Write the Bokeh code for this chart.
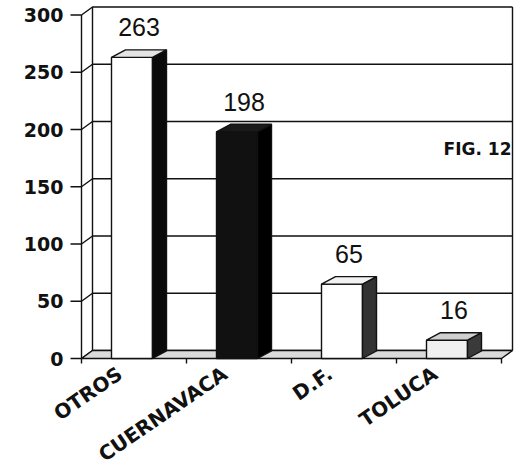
from bokeh.plotting import figure
from bokeh.models import Range1d
from bokeh.core.properties import value
from bokeh.embed import file_html
from bokeh.resources import INLINE

# ---- data ----
categories = ["OTROS", "CUERNAVACA", "D.F.", "TOLUCA"]
counts = [263, 198, 65, 16]
y_ticks = [0, 50, 100, 150, 200, 250, 300]
y_tick_labels = ["0", "50", "100", "150", "200", "250", "300"]
fig_label = "FIG. 12"

# ---- styles ----
front_face = ["#ffffff", "#111111", "#ffffff", "#f0f0f0"]
side_face = ["#0a0a0a", "#000000", "#333333", "#3a3a3a"]
top_face = ["#e4e4e4", "#1a1a1a", "#f2f2f2", "#cfcfcf"]

# ---- layout constants (pixels) ----
W, H = 520, 470
PAGE = 0
PX_X = 105.0      # px per category
PX_Y = 1.145      # px per value unit
X0_PAGE = 81      # page x of the front axis
Y0_PAGE = 358     # page y of value 0


def ux(px):
    return px / PX_X


def uy(px):
    return px / PX_Y


x_start = (PAGE - X0_PAGE) / PX_X
x_end = x_start + W / PX_X
y_end = (Y0_PAGE - PAGE) / PX_Y
y_start = y_end - H / PX_Y

p = figure(width=W, height=H, x_range=Range1d(x_start, x_end),
           y_range=Range1d(y_start, y_end), output_backend="svg",
           toolbar_location=None, x_axis_type=None, y_axis_type=None,
           min_border=0)
p.grid.visible = False
p.outline_line_color = None
p.background_fill_color = "white"

n = len(categories)
ymax = y_ticks[-1]
DX, DY = ux(11), uy(8)
LW = 1.4
INK = "#111111"

# walls
p.patch([DX, n + DX, n + DX, DX], [DY, DY, ymax + DY, ymax + DY],
        fill_color="white", line_color=None)
p.patch([0, DX, DX, 0], [0, DY, ymax + DY, ymax], fill_color="white",
        line_color=None)

# gridlines (left wall diagonal + back wall horizontal)
p.multi_line([[0, DX, n + DX] for t in y_ticks],
             [[t, t + DY, t + DY] for t in y_ticks],
             line_color=INK, line_width=LW)
# wall edges
p.multi_line([[0, 0], [DX, DX], [n + DX, n + DX]],
             [[0, ymax], [DY, ymax + DY], [DY, ymax + DY]],
             line_color=INK, line_width=LW)
# y tick marks
p.multi_line([[-ux(11), 0] for t in y_ticks], [[t, t] for t in y_ticks],
             line_color=INK, line_width=LW)

# floor
p.patch([0, n, n + DX, DX], [0, 0, DY, DY], fill_color="#dadada",
        line_color=INK, line_width=LW)
# category tick marks
p.multi_line([[i, i] for i in range(n + 1)],
             [[0, -uy(5)] for i in range(n + 1)],
             line_color=INK, line_width=LW)

# bars
OFF, BW = ux(30), ux(41)
BX, BY = ux(14), uy(7.5)
lefts = [i + OFF for i in range(n)]
rights = [l + BW for l in lefts]

p.quad(left=lefts, right=rights, bottom=[0] * n, top=counts,
       fill_color=front_face, line_color=INK, line_width=LW)
p.patches([[r, r + BX, r + BX, r] for r in rights],
          [[0, BY, v + BY, v] for v in counts],
          fill_color=side_face, line_color=INK, line_width=LW)
p.patches([[l, r, r + BX, l + BX] for l, r in zip(lefts, rights)],
          [[v, v, v + BY, v + BY] for v in counts],
          fill_color=top_face, line_color=INK, line_width=LW)

# value labels
p.text(x=[l + (BW + BX) / 2 for l in lefts], y=[v + uy(30) for v in counts],
       text=[str(v) for v in counts], text_align="center",
       text_baseline="alphabetic", text_font=value("Liberation Sans"),
       text_font_size="25px", text_color="#111111")

# y tick labels
p.text(x=[-ux(18)] * len(y_ticks), y=y_ticks, text=y_tick_labels,
       text_align="right", text_baseline="middle",
       text_font=value("DejaVu Sans"), text_font_style="bold",
       text_font_size="19px", text_color="#111111")

# category labels
p.text(x=[i + 0.5 - ux(14) for i in range(n)], y=[-uy(13)] * n,
       text=categories, angle=0.6, text_align="right",
       text_baseline="middle", text_font=value("DejaVu Sans"),
       text_font_style="bold", text_font_size="20px", text_color="#111111")

# figure label
p.text(x=[n + DX - ux(1)], y=[uy(Y0_PAGE - 148)], text=[fig_label],
       text_align="right", text_baseline="middle",
       text_font=value("DejaVu Sans"), text_font_style="bold",
       text_font_size="17px", text_color="#111111")

open("out.html", "w").write(file_html(p, INLINE))
